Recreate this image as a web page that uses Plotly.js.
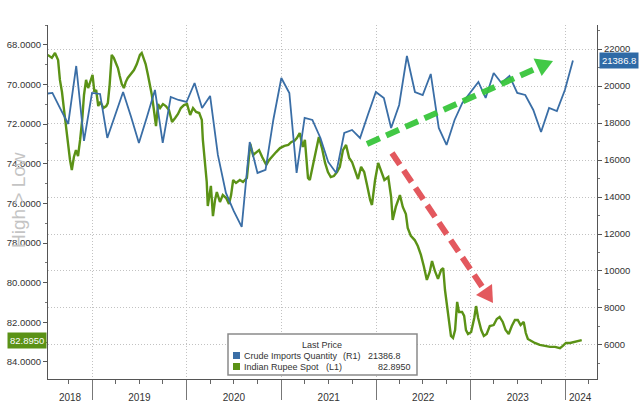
<!DOCTYPE html>
<html>
<head>
<meta charset="utf-8">
<script src="https://cdn.plot.ly/plotly-3.0.1.min.js"></script>
<style>
html,body{margin:0;padding:0;background:#fff;}
#chart{width:639px;height:411px;}
</style>
</head>
<body>
<div id="chart"></div>
<script>
// ---- Data ----
const yearLabels = ['2018','2019','2020','2021','2022','2023','2024'];
const yearLabelDates = ['2018-10-07','2019-07-02','2020-07-01','2021-07-02','2022-07-02','2023-07-02','2024-02-28'];

const crudeDates = [
 '2018-06-30','2018-07-31','2018-08-31','2018-09-30','2018-10-31','2018-11-30','2018-12-31',
 '2019-01-31','2019-02-28','2019-03-31','2019-04-30','2019-05-31','2019-06-30','2019-07-31','2019-08-31','2019-09-30','2019-10-31','2019-11-30','2019-12-31',
 '2020-01-31','2020-02-29','2020-03-31','2020-04-30','2020-05-31','2020-06-30','2020-07-31','2020-08-31','2020-09-30','2020-10-31','2020-11-30','2020-12-31',
 '2021-01-31','2021-02-28','2021-03-31','2021-04-30','2021-05-31','2021-06-30','2021-07-31','2021-08-31','2021-09-30','2021-10-31','2021-11-30','2021-12-31',
 '2022-01-31','2022-02-28','2022-03-31','2022-04-30','2022-05-31','2022-06-30','2022-07-31','2022-08-31','2022-09-30','2022-10-31','2022-11-30','2022-12-31',
 '2023-01-31','2023-02-28','2023-03-31','2023-04-30','2023-05-31','2023-06-30','2023-07-31','2023-08-31','2023-09-30','2023-10-31','2023-11-30','2023-12-31',
 '2024-01-31'];
const crudeImports = [
 19571,19625,18760,17949,21084,17030,19625,
 19571,17192,18436,19679,18327,16922,18327,19787,16922,19408,19246,19138,
 20165,18814,19462,16274,14220,13247,12382,16976,15301,15463,18165,20435,
 19625,15301,18273,18165,17192,15895,15301,17463,17625,17192,18436,19679,
 19354,17733,18976,21624,19679,19517,20651,17733,16814,18165,19084,19679,
 20219,19354,20706,20165,20543,19625,19517,18706,17517,18814,18652,19787,
 21386.8];

const rupeeDates = [
 '2018-07-13','2018-07-29','2018-08-10','2018-08-22','2018-08-29','2018-09-06','2018-09-14','2018-09-22','2018-09-29','2018-10-07',
 '2018-10-14','2018-10-22','2018-10-30','2018-11-07','2018-11-15','2018-11-23','2018-11-30','2018-12-08','2018-12-16','2018-12-23',
 '2019-01-02','2019-01-09','2019-01-16','2019-01-24','2019-02-01','2019-02-13','2019-02-24','2019-03-02','2019-03-09','2019-03-17',
 '2019-03-25','2019-04-02','2019-04-10','2019-04-17','2019-04-25','2019-05-03','2019-05-10','2019-05-18','2019-05-29','2019-06-11',
 '2019-06-22','2019-07-04','2019-07-11','2019-07-19','2019-07-26','2019-08-04','2019-08-12','2019-08-19','2019-08-27','2019-09-04',
 '2019-09-12','2019-09-20','2019-10-01','2019-10-12','2019-10-24','2019-11-05','2019-11-17','2019-11-28','2019-12-09','2019-12-21',
 '2020-01-02','2020-01-14','2020-01-25','2020-02-06','2020-02-18','2020-02-28','2020-03-03','2020-03-11','2020-03-18','2020-03-22',
 '2020-04-03','2020-04-11','2020-04-19','2020-04-26','2020-05-08','2020-05-19','2020-06-01','2020-06-12','2020-06-20','2020-06-28',
 '2020-07-09','2020-07-24','2020-08-05','2020-08-20','2020-09-02','2020-09-13','2020-09-25','2020-10-06','2020-10-18','2020-11-03',
 '2020-11-14','2020-11-26','2020-12-11','2020-12-26','2021-01-12','2021-01-27','2021-02-08','2021-02-19','2021-03-01','2021-03-12',
 '2021-03-24','2021-04-01','2021-04-13','2021-04-20','2021-05-02','2021-05-13','2021-05-25','2021-06-06','2021-06-18','2021-06-29',
 '2021-07-10','2021-07-22','2021-08-03','2021-08-14','2021-08-26','2021-09-07','2021-09-19','2021-09-30','2021-10-12','2021-10-23',
 '2021-11-04','2021-11-16','2021-11-27','2021-12-09','2021-12-16','2021-12-28','2022-01-09','2022-01-21','2022-02-02','2022-02-17',
 '2022-02-28','2022-03-06','2022-03-18','2022-04-03','2022-04-14','2022-04-26','2022-05-03','2022-05-15','2022-05-30','2022-06-11',
 '2022-06-23','2022-07-04','2022-07-16','2022-07-27','2022-08-05','2022-08-16','2022-08-28','2022-09-09','2022-09-17','2022-09-24',
 '2022-10-02','2022-10-10','2022-10-17','2022-10-25','2022-11-02','2022-11-10','2022-11-17','2022-11-29','2022-12-07','2022-12-14',
 '2022-12-22','2023-01-03','2023-01-15','2023-01-22','2023-01-30','2023-02-11','2023-02-21','2023-03-04','2023-03-16','2023-03-31',
 '2023-04-12','2023-04-23','2023-05-05','2023-05-16','2023-05-28','2023-06-09','2023-06-21','2023-07-02','2023-07-13','2023-07-25',
 '2023-08-02','2023-08-10','2023-08-22','2023-09-06','2023-09-25','2023-10-14','2023-11-04','2023-11-23','2023-12-12','2023-12-23',
 '2024-01-04','2024-01-20','2024-02-05','2024-02-20','2024-03-05'];
const rupeeSpot = [
 68.51,68.66,68.41,68.77,69.77,70.38,71.29,72.20,73.05,73.81,
 74.32,73.66,73.31,73.61,72.80,71.79,70.53,69.77,70.18,69.88,
 69.52,70.38,70.28,71.09,70.88,71.19,71.09,70.94,70.03,68.51,
 68.66,68.92,69.17,69.57,69.98,70.18,69.88,69.67,69.47,69.27,
 68.97,68.51,68.41,68.66,68.97,69.52,70.03,70.53,71.29,72.10,
 70.99,71.19,70.99,71.09,71.29,71.89,71.69,71.49,71.19,71.04,
 70.99,71.54,71.19,71.39,71.44,71.79,72.80,74.06,74.92,76.13,
 75.12,76.64,75.83,75.43,75.93,75.58,75.73,76.03,75.58,74.82,
 74.97,74.82,74.92,74.72,73.00,73.56,73.41,73.31,73.66,74.06,
 73.81,73.61,73.41,73.21,73.10,73.05,72.90,72.85,72.70,72.45,
 73.15,72.80,74.72,74.82,74.11,73.31,72.65,73.21,73.96,74.42,
 74.67,74.62,74.42,74.16,73.31,73.05,73.71,73.91,74.32,74.77,
 74.16,74.42,75.07,75.83,76.08,74.82,73.96,74.42,74.82,74.67,
 75.68,76.84,76.18,75.58,76.18,76.54,77.24,77.64,77.85,78.15,
 78.60,79.16,79.86,79.46,78.91,79.41,79.81,79.36,79.26,80.37,
 81.23,82.14,82.69,82.79,82.39,80.97,81.48,81.48,81.68,82.39,
 82.59,82.49,81.78,81.18,81.78,82.39,82.69,82.59,82.19,82.14,
 81.83,81.73,81.98,82.39,82.59,82.19,81.88,81.88,82.14,81.98,
 82.54,82.84,82.94,83.04,83.14,83.19,83.24,83.24,83.30,83.19,
 83.04,83.04,82.99,82.94,82.895];

const leftTicks = [68,70,72,74,76,78,80,82,84];
const rightTicks = [6000,8000,10000,12000,14000,16000,18000,20000,22000];

// ---- Styling ----
const BLUE = '#3a6ea6';
const GREEN = '#5b9216';
const FONT = 'Liberation Sans, Arial, sans-serif';
const GRID = '#c2c2c2';
const xRange = ['2018-07-14','2024-05-03'];

const lastCrude = crudeImports[crudeImports.length-1];
const lastRupee = rupeeSpot[rupeeSpot.length-1];

const traces = [
  {x: rupeeDates, y: rupeeSpot, type:'scatter', mode:'lines', xaxis:'x', yaxis:'y',
   line:{color:GREEN, width:2.4}, name:'Indian Rupee Spot', hoverinfo:'skip'},
  {x: crudeDates, y: crudeImports, type:'scatter', mode:'lines', xaxis:'x2', yaxis:'y2',
   line:{color:BLUE, width:1.8}, name:'Crude Imports Quantity', hoverinfo:'skip'}
];

// pixel helpers for callout decorations (paper coordinates)
const PL=48, PR=597, PT=25, PB=379;
const px = v => (v-PL)/(PR-PL);
const py = v => (PB-v)/(PB-PT);

const legFont = {size:9, color:'#333', family:FONT};

const layout = {
  width:639, height:411,
  margin:{l:48, r:42, t:25, b:32, pad:0},
  paper_bgcolor:'#fff', plot_bgcolor:'#fff',
  showlegend:false,
  font:{family:FONT, size:10, color:'#333'},
  xaxis:{type:'date', range:xRange, tickmode:'array', tickvals:yearLabelDates, ticktext:yearLabels,
         ticks:'', showgrid:false, zeroline:false, showline:true, linecolor:'#555', linewidth:1,
         tickfont:{size:10, color:'#333'}, ticklabelstandoff:9, fixedrange:true},
  xaxis2:{type:'date', range:xRange, overlaying:'x', anchor:'y', side:'bottom',
          tickmode:'linear', tick0:'2019-01-01', dtick:'M12', ticks:'outside', ticklen:20, tickcolor:'#777', tickwidth:1,
          showticklabels:false, showgrid:true, gridcolor:GRID, griddash:'1px,2px', gridwidth:1,
          minor:{tickmode:'linear', tick0:'2019-01-01', dtick:'M3', ticks:'outside', ticklen:4, tickcolor:'#666', showgrid:false},
          zeroline:false, showline:false},
  yaxis:{range:[84.86, 67], tickmode:'array', tickvals:leftTicks, tickformat:'.4f',
         ticks:'outside', ticklen:4, tickcolor:'#555', showline:true, linecolor:'#555', linewidth:1,
         showgrid:false, zeroline:false, tickfont:{size:9.5, color:'#333'},
         minor:{tickmode:'linear', tick0:67, dtick:1, ticks:'outside', ticklen:2, tickcolor:'#777'}},
  yaxis2:{range:[4160, 23300], overlaying:'y', side:'right', anchor:'x2', tickmode:'array', tickvals:rightTicks,
          tickformat:'d', ticks:'outside', ticklen:4, tickcolor:'#555', showline:true, linecolor:'#555', linewidth:1,
          showgrid:true, gridcolor:GRID, griddash:'1px,2px', gridwidth:1, zeroline:false,
          tickfont:{size:9.5, color:'#333'},
          minor:{tickmode:'linear', tick0:5000, dtick:2000, ticks:'outside', ticklen:2, tickcolor:'#777'}},
  shapes:[
    // legend box
    {type:'rect', xref:'paper', yref:'paper', x0:px(228), x1:px(417), y0:py(375), y1:py(334),
     line:{color:'#8a8a8a', width:1.5}, fillcolor:'#fff', layer:'above'},
    // legend colour swatches
    {type:'rect', xref:'paper', yref:'paper', x0:px(233), x1:px(240), y0:py(359), y1:py(352),
     line:{width:0}, fillcolor:BLUE, layer:'above'},
    {type:'rect', xref:'paper', yref:'paper', x0:px(233), x1:px(240), y0:py(370), y1:py(363),
     line:{width:0}, fillcolor:GREEN, layer:'above'},
    // green callout arrow
    {type:'line', xref:'paper', yref:'paper', x0:px(367), y0:py(144), x1:px(538.4), y1:py(67.5),
     line:{color:'#38c63c', width:6, dash:'14px,7px'}, opacity:0.95, layer:'above'},
    {type:'path', xref:'paper', yref:'paper',
     path:`M ${px(553)} ${py(61)} L ${px(541.7)} ${py(76)} L ${px(533.5)} ${py(58.5)} Z`,
     fillcolor:'#38c63c', line:{width:0}, opacity:0.95, layer:'above'},
    // red callout arrow
    {type:'line', xref:'paper', yref:'paper', x0:px(392), y0:py(153), x1:px(484.1), y1:py(289.7),
     line:{color:'#e0474d', width:6, dash:'14px,7px'}, opacity:0.9, layer:'above'},
    {type:'path', xref:'paper', yref:'paper',
     path:`M ${px(493)} ${py(303)} L ${px(492)} ${py(284)} L ${px(476)} ${py(295)} Z`,
     fillcolor:'#e0474d', line:{width:0}, opacity:0.9, layer:'above'}
  ],
  annotations:[
    {xref:'paper', yref:'paper', x:px(18), y:py(200), text:'High &gt; Low', textangle:-90, showarrow:false,
     font:{size:19, color:'#c4c4c4', family:FONT}, xanchor:'center', yanchor:'middle'},
    // last value tags
    {xref:'paper', yref:'y', x:0, y:lastRupee, xanchor:'right', yanchor:'middle', xshift:-1,
     text:lastRupee.toFixed(4), showarrow:false, bgcolor:GREEN, borderpad:2,
     font:{size:9.5, color:'#fff', family:FONT}},
    {xref:'paper', yref:'y2', x:1, y:lastCrude, xanchor:'left', yanchor:'middle', xshift:2,
     text:lastCrude.toFixed(1), showarrow:false, bgcolor:'#2f6aa6', borderpad:2,
     font:{size:9.5, color:'#fff', family:FONT}},
    // legend texts
    {xref:'paper', yref:'paper', x:px(322), y:py(345), text:'Last Price', showarrow:false,
     xanchor:'center', yanchor:'middle', font:legFont, borderpad:0},
    {xref:'paper', yref:'paper', x:px(243), y:py(355.5), showarrow:false, xanchor:'left', yanchor:'middle',
     text:'Crude Imports Quantity', font:legFont, borderpad:0},
    {xref:'paper', yref:'paper', x:px(342), y:py(355.5), showarrow:false, xanchor:'left', yanchor:'middle',
     text:'(R1)', font:legFont, borderpad:0},
    {xref:'paper', yref:'paper', x:px(367), y:py(355.5), showarrow:false, xanchor:'left', yanchor:'middle',
     text:lastCrude.toFixed(1), font:legFont, borderpad:0},
    {xref:'paper', yref:'paper', x:px(243), y:py(366.5), showarrow:false, xanchor:'left', yanchor:'middle',
     text:'Indian Rupee Spot', font:legFont, borderpad:0},
    {xref:'paper', yref:'paper', x:px(325), y:py(366.5), showarrow:false, xanchor:'left', yanchor:'middle',
     text:'(L1)', font:legFont, borderpad:0},
    {xref:'paper', yref:'paper', x:px(412), y:py(366.5), showarrow:false, xanchor:'right', yanchor:'middle',
     text:lastRupee.toFixed(4), font:legFont, borderpad:0}
  ]
};

Plotly.newPlot('chart', traces, layout, {staticPlot:true, displayModeBar:false});
</script>
</body>
</html>
